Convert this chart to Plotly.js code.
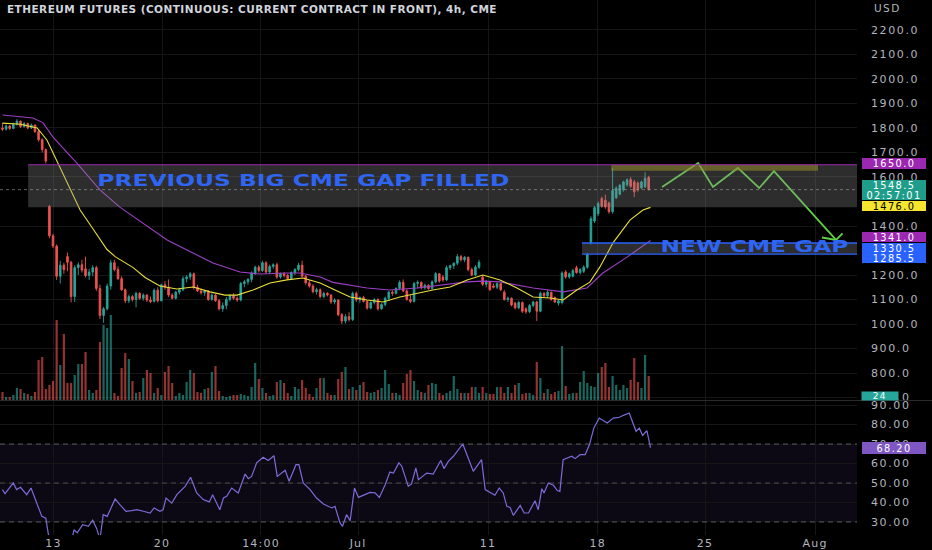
<!DOCTYPE html>
<html><head><meta charset="utf-8">
<script src="https://cdn.plot.ly/plotly-3.0.1.min.js"></script>
<style>
html,body{margin:0;padding:0;background:#000;}
#chart{width:932px;height:550px;}
</style></head><body><div id="chart"></div>
<script>
// ---- 4h candles (bar index 0..179) ----
const openP = [1800,1795,1808,1798,1815,1828,1806,1818,1800,1812,
1785,1752,1712,1480,1360,1318,1195,1240,1275,1252,
1112,1230,1242,1225,1198,1212,1230,1145,1035,1062,
1155,1250,1222,1185,1140,1095,1112,1100,1125,1105,
1118,1098,1092,1138,1095,1160,1150,1118,1105,1130,
1140,1185,1192,1205,1150,1135,1128,1135,1100,1118,
1095,1062,1075,1100,1115,1105,1098,1165,1172,1182,
1208,1232,1218,1250,1212,1235,1242,1192,1205,1198,
1185,1210,1222,1240,1195,1168,1155,1132,1140,1112,
1125,1118,1090,1098,1038,1012,1030,1018,1125,1098,
1108,1092,1065,1088,1100,1062,1080,1105,1130,1125,
1145,1170,1135,1100,1092,1165,1170,1148,1158,1145,
1172,1205,1192,1180,1230,1238,1248,1275,1262,1272,
1222,1200,1232,1192,1162,1172,1155,1150,1165,1130,
1100,1105,1085,1066,1088,1062,1050,1075,1090,1052,
1125,1115,1130,1108,1085,1088,1212,1192,1195,1230,
1210,1215,1232,1330.5,1420,1450,1512,1505,1494,1458,
1515,1530,1548,1568,1590,1580,1575,1555,1560,1598];
const highP = [1820,1815,1812,1822,1836,1830,1824,1822,1818,1815,
1792,1758,1716,1486,1368,1325,1258,1250,1292,1258,
1240,1252,1262,1275,1225,1240,1238,1160,1070,1165,
1262,1262,1235,1195,1145,1120,1118,1132,1130,1125,
1122,1112,1145,1150,1165,1175,1182,1125,1135,1148,
1195,1200,1212,1210,1160,1145,1140,1138,1125,1122,
1102,1088,1110,1122,1125,1112,1172,1180,1188,1215,
1238,1240,1258,1256,1242,1248,1250,1210,1212,1205,
1215,1228,1250,1258,1200,1180,1162,1148,1145,1132,
1130,1122,1105,1100,1045,1040,1048,1132,1132,1112,
1115,1098,1092,1105,1105,1085,1112,1135,1138,1150,
1178,1182,1142,1118,1172,1178,1174,1165,1162,1178,
1212,1208,1200,1238,1242,1252,1285,1282,1278,1275,
1230,1240,1262,1198,1180,1176,1165,1170,1168,1138,
1112,1108,1090,1095,1092,1068,1082,1095,1095,1132,
1130,1138,1132,1112,1100,1215,1220,1210,1225,1238,
1228,1240,1290,1440,1482,1500,1520,1528,1500,1637,
1562,1572,1585,1595,1600,1588,1582,1585,1620,1605];
const lowP = [1788,1790,1792,1795,1810,1800,1802,1795,1796,1780,
1745,1700,1655,1350,1310,1180,1165,1205,1215,1088,
1090,1200,1210,1190,1180,1195,1135,1020,1005,1055,
1140,1215,1180,1135,1085,1085,1092,1068,1098,1095,
1090,1085,1088,1088,1092,1140,1110,1100,1100,1120,
1135,1170,1180,1140,1130,1120,1115,1095,1095,1090,
1055,1050,1060,1092,1098,1090,1092,1150,1160,1170,
1200,1210,1212,1205,1205,1225,1185,1185,1190,1180,
1180,1200,1215,1190,1160,1148,1125,1120,1105,1105,
1112,1082,1080,1032,1000,1002,1010,1012,1090,1085,
1088,1058,1060,1080,1055,1058,1072,1095,1115,1120,
1138,1130,1095,1085,1088,1145,1142,1140,1140,1140,
1165,1168,1172,1175,1220,1225,1240,1255,1252,1215,
1195,1195,1225,1155,1150,1135,1145,1142,1135,1095,
1090,1072,1060,1060,1045,1042,1045,1068,1012,1048,
1108,1105,1095,1085,1075,1080,1185,1185,1190,1205,
1202,1208,1225,1325,1412,1440,1475,1470,1450,1450,
1510,1525,1540,1560,1555,1518,1540,1550,1555,1545];
const closeP = [1795,1808,1798,1815,1828,1806,1818,1800,1812,1785,
1752,1712,1665,1360,1318,1195,1240,1222,1252,1112,
1230,1242,1220,1198,1212,1230,1145,1035,1062,1155,
1250,1222,1185,1140,1095,1112,1100,1125,1105,1118,
1098,1092,1138,1095,1160,1150,1118,1105,1130,1140,
1185,1192,1205,1150,1135,1128,1135,1100,1118,1095,
1062,1075,1100,1115,1105,1098,1165,1172,1182,1208,
1232,1218,1250,1212,1235,1242,1192,1205,1198,1185,
1210,1222,1240,1195,1168,1155,1132,1140,1112,1125,
1118,1090,1098,1038,1012,1030,1018,1125,1098,1108,
1092,1065,1088,1100,1062,1080,1105,1130,1125,1145,
1170,1135,1100,1092,1165,1170,1148,1158,1145,1172,
1205,1175,1180,1230,1238,1248,1275,1262,1272,1222,
1200,1232,1252,1162,1172,1140,1150,1165,1140,1100,
1105,1078,1066,1088,1052,1050,1075,1090,1052,1125,
1115,1130,1100,1090,1095,1208,1192,1205,1218,1210,
1222,1232,1285.5,1430,1475,1492,1480,1478,1458,1545,
1555,1566,1580,1588,1562,1540,1548,1580,1595,1548.5];
const volume = [8,3,3,5,12,11,7,6,4,8,
40,43,11,15,19,80,35,66,17,17,
25,36,36,48,10,7,10,58,75,72,
85,7,4,32,47,41,19,7,8,22,
30,27,7,12,5,28,34,17,4,7,
5,18,30,27,8,7,11,12,28,34,
9,4,3,4,5,5,6,5,4,13,
37,21,12,7,4,5,18,20,17,7,
4,13,11,20,12,6,3,12,22,22,
7,5,5,21,28,33,11,13,10,15,
18,8,7,8,10,12,30,16,7,7,
5,17,26,30,19,10,8,7,15,17,
16,7,5,7,9,24,11,7,7,7,
13,13,7,13,7,6,6,13,13,7,
13,7,15,17,6,7,7,5,38,22,
7,11,6,8,9,54,14,6,7,7,
18,29,17,14,13,27,33,37,13,24,
15,10,15,12,20,42,18,12,45,24];

// ---- moving averages (read points: bar index, price) ----
const yellowX = [0,5,9.6,12.3,15.9,19.2,21.5,25.0,28.9,31.2,36.2,39.5,43.6,48.3,52.8,57.5,61.6,65.0,69.4,74.1,78.8,83.2,88.0,92.1,96.3,101.0,105.4,110.1,114.8,119.2,124.0,128.7,133.1,137.8,142.5,147.0,151.7,155.3,159.1,162.7,165.5,169.1,173.8,177.4,179.5];
const yellowY = [1820,1815,1800,1751,1640,1535,1465,1390,1305,1275,1230,1190,1155,1143,1151,1131,1118,1118,1139,1167,1180,1188,1167,1139,1110,1098,1090,1110,1126,1139,1151,1180,1200,1180,1147,1110,1106,1098,1139,1171,1233,1331,1424,1465,1476];
const purpleX = [0,8.4,11.2,14.0,20.6,27.0,32.5,38.9,45.6,51.1,58.3,65.8,71.3,78.8,82.4,88.0,91.5,101.0,107.3,114.8,124.0,128.7,133.1,137.8,147.0,155.3,161.9,166.3,173.0,179.5];
const purpleY = [1853,1841,1822,1763,1657,1547,1477,1412,1343,1302,1249,1212,1204,1208,1208,1192,1170,1147,1139,1147,1163,1172,1175,1172,1147,1131,1147,1208,1273,1341];

// ---- RSI (bar index, value) ----
const rsiX = [0,0.7,3.0,3.9,5.0,6.7,7.9,9.0,10.9,12.0,
12.5,13.2,14.5,15.9,17.3,18.7,19.8,20.7,22.2,23.8,
25.0,26.1,27.0,27.9,29.0,31.2,32.5,34.2,35.8,37.2,
39.0,40.9,42.0,43.6,44.5,45.3,46.9,48.3,50.6,52.1,
53.8,55.6,57.3,58.2,60.2,61.2,62.1,63.5,65.3,67.2,
68.1,69.0,70.4,72.2,73.6,75.2,76.1,78.3,79.4,81.3,
82.1,83.3,85.2,87.0,88.9,91.2,92.1,93.5,94.2,95.3,
96.3,97.5,98.6,100.4,101.8,103.2,104.4,106.0,107.3,108.3,
109.8,110.6,112.4,113.3,114.5,115.2,117.5,119.3,121.4,122.3,
123.5,124.9,127.5,130.4,132.7,133.7,135.5,136.4,137.6,138.7,
139.7,140.6,141.5,143.4,144.5,145.7,147.5,148.4,149.4,150.0,
151.2,152.6,153.7,154.4,155.3,156.7,157.7,158.6,160.0,161.4,
162.6,163.8,165.3,166.4,167.5,169.2,170.9,172.0,173.6,175.5,
176.4,177.3,178.5,179.5];
const rsiY = [46.6,44.5,50,46.6,47.8,44,47.4,42.3,32.9,32,
24.4,18,12,14,10,16,26,24.4,28.6,27.8,
30.9,26.6,21,33.8,32.9,41.8,38.9,35.5,35.8,36.3,
35.5,34.6,37.2,35.5,36.3,42.3,39.7,44,48.3,52.9,
44.9,41.5,40.3,44,36.3,42.3,43.2,47.4,44.9,54.6,
52.2,53.4,60.3,63.2,61.5,64,53.4,56.5,50.9,59.4,
59.4,50,46.6,42.3,39.2,37.2,38,29.5,27.8,33.8,
30.7,47.4,42.6,44,45.2,44.9,42.6,49.1,55.6,55.1,
60.3,58.6,48.3,49.5,57.7,51.7,55.1,54.6,61.5,57.4,
61.1,63.7,70,56,62,46.6,44.9,43.7,47.4,44.9,
38,37.5,33.4,38.5,34.6,34.6,40.9,36.3,47.1,44.9,
50,48.8,46.1,45.7,62,62.8,63.7,62.5,64.5,64.5,
69.7,78.2,83.3,82,80.8,83.3,83.7,84.7,85.9,76.5,
78.2,74.4,76.8,68.2];

// ---- projection drawing ----
const zigX = [182.7,192.7,196.8,203.7,209.6,213.7,230.9];
const zigY = [1559,1657,1559,1637,1555,1624,1343];
const arrowX = [227.0,230.9,232.7];
const arrowY = [1353,1343,1370];

// ---- axis ticks ----
const xTickPos = [14.1,44.2,71.6,98.5,134.5,164.9,194.6,225.1];
const xTickText = ['13','20','14:00','Jul','11','18','25','Aug'];
const priceTicks = [700,800,900,1000,1100,1200,1400,1600,1700,1800,1900,2000,2100,2200];
const rsiTicks = [30,40,50,60,70,80,90];

// ---- levels ----
const oldGapTop = 1650, oldGapBottom = 1476;
const newGapTop = 1330.5, newGapBottom = 1285.5;
const targetTop = 1650, targetBottom = 1625;
const lastPrice = 1548.5, lastYellow = 1476.0, lastPurple = 1341.0, lastRsi = 68.20, lastVol = 24;
const oldGapStart = 7.1, newGapStart = 160.5, targetStart = 168.6, targetEnd = 225.9;

const barIndex = closeP.map((_, i) => i);
const UP = '#26a69a', DOWN = '#ef5350';
const volColors = closeP.map((c, i) => c >= openP[i] ? 'rgba(38,166,154,0.62)' : 'rgba(239,83,80,0.62)');

const FONT = 'DejaVu Sans';
const PW = 857, PH = 535;

const data = [
  {type:'bar', x:barIndex, y:volume, yaxis:'y3', marker:{color:volColors, line:{width:0}}, width:0.6, hoverinfo:'skip'},
  {type:'candlestick', x:barIndex, open:openP, high:highP, low:lowP, close:closeP,
   increasing:{line:{color:UP, width:0.9}, fillcolor:UP},
   decreasing:{line:{color:DOWN, width:0.9}, fillcolor:DOWN},
   whiskerwidth:0, hoverinfo:'skip'},
  {type:'scatter', mode:'lines', x:purpleX, y:purpleY, line:{color:'#9c3fc4', width:1.1}, hoverinfo:'skip'},
  {type:'scatter', mode:'lines', x:yellowX, y:yellowY, line:{color:'#e8df3c', width:1.1}, hoverinfo:'skip'},
  {type:'scatter', mode:'lines', x:zigX, y:zigY, line:{color:'#5fcf45', width:1.8}, hoverinfo:'skip'},
  {type:'scatter', mode:'lines', x:arrowX, y:arrowY, line:{color:'#5fcf45', width:1.8}, hoverinfo:'skip'},
  {type:'scatter', mode:'lines', x:rsiX, y:rsiY, yaxis:'y2', line:{color:'#7e6ad8', width:1.2}, hoverinfo:'skip'}
];

const tickFont = {family:FONT, size:11, color:'#b2b5be'};
const grid = '#161616';

const shapes = [
  {type:'rect', xref:'paper', yref:'y2', x0:0, x1:1, y0:30, y1:70, fillcolor:'rgba(126,87,194,0.10)', line:{width:0}, layer:'below'},
  {type:'line', xref:'paper', yref:'y2', x0:0, x1:1, y0:70, y1:70, line:{color:'rgba(120,123,134,0.7)', width:1, dash:'5px,4px'}},
  {type:'line', xref:'paper', yref:'y2', x0:0, x1:1, y0:50, y1:50, line:{color:'rgba(120,123,134,0.55)', width:1, dash:'5px,4px'}},
  {type:'line', xref:'paper', yref:'y2', x0:0, x1:1, y0:30, y1:30, line:{color:'rgba(120,123,134,0.7)', width:1, dash:'5px,4px'}},
  {type:'line', xref:'paper', yref:'paper', x0:0, x1:932/PW, y0:134.5/PH, y1:134.5/PH, line:{color:'#2a2a2a', width:1}},
  {type:'rect', xref:'x', yref:'y', x0:oldGapStart, x1:236.7, y0:oldGapBottom, y1:oldGapTop, fillcolor:'rgba(140,140,140,0.32)', line:{width:0}, layer:'above'},
  {type:'rect', xref:'x', yref:'y', x0:targetStart, x1:targetEnd, y0:targetBottom, y1:targetTop, fillcolor:'rgba(150,140,40,0.55)', line:{width:0}, layer:'above'},
  {type:'line', xref:'x', yref:'y', x0:oldGapStart, x1:236.7, y0:oldGapTop, y1:oldGapTop, line:{color:'#9c27b0', width:1}},
  {type:'rect', xref:'x', yref:'y', x0:newGapStart, x1:236.7, y0:newGapBottom, y1:newGapTop, fillcolor:'rgba(140,140,140,0.32)', line:{width:0}, layer:'above'},
  {type:'line', xref:'x', yref:'y', x0:newGapStart, x1:236.7, y0:newGapTop, y1:newGapTop, line:{color:'#2962ff', width:1.3}},
  {type:'line', xref:'x', yref:'y', x0:newGapStart, x1:236.7, y0:newGapBottom, y1:newGapBottom, line:{color:'#2962ff', width:1.3}},
  {type:'line', xref:'paper', yref:'y', x0:0, x1:1, y0:lastPrice, y1:lastPrice, line:{color:'rgba(160,160,160,0.6)', width:1, dash:'dot'}}
];

const boxX = 894/PW;
function priceBox(txt, y, yref, bg, fg, yshift, h){
  return {xref:'paper', yref:yref, x:boxX, y:y, xanchor:'center', yanchor:'middle', yshift:yshift||0,
    text:txt, showarrow:false, bgcolor:bg, width:64, height:h||11, borderpad:0, borderwidth:0,
    font:{family:FONT, size:9.8, color:fg}, align:'center'};
}

const annotations = [
  {xref:'paper', yref:'paper', x:5/PW, y:1-9/PH, xanchor:'left', yanchor:'middle', showarrow:false, width:600, align:'left',
   text:'ETHEREUM FUTURES (CONTINUOUS: CURRENT CONTRACT IN FRONT), 4h, CME',
   font:{family:FONT, size:10.5, color:'#d1d4dc', weight:'bold'}},
  {xref:'paper', yref:'paper', x:872/PW, y:1-8/PH, xanchor:'left', yanchor:'middle', showarrow:false, width:50, align:'left',
   text:'USD', font:{family:FONT, size:10.5, color:'#b2b5be'}},
  {xref:'x', yref:'y', x:83.5, y:1583.7, xanchor:'center', yanchor:'middle', showarrow:false,
   text:'PREVIOUS BIG CME GAP FILLED', font:{family:FONT, size:15, color:'#2f65f3', weight:'bold'}},
  {xref:'x', yref:'y', x:208.2, y:1314, xanchor:'center', yanchor:'middle', showarrow:false,
   text:'NEW CME GAP', font:{family:FONT, size:15, color:'#2f65f3', weight:'bold'}},
  priceBox(oldGapTop.toFixed(1), oldGapTop, 'y', '#9c27b0', '#ffffff', 1.5),
  priceBox(lastPrice.toFixed(1), lastPrice, 'y', '#1f9d8b', '#ffffff', 4.5, 10),
  priceBox('02:57:01', lastPrice, 'y', '#1f9d8b', '#ffffff', -5.5, 10),
  priceBox(lastYellow.toFixed(1), lastYellow, 'y', '#f5e52f', '#000000', 1.4, 10),
  priceBox(lastPurple.toFixed(1), lastPurple, 'y', '#9c27b0', '#ffffff', 3, 10),
  priceBox(newGapTop.toFixed(1), newGapTop, 'y', '#2962ff', '#ffffff', -4.5, 10),
  priceBox(newGapBottom.toFixed(1), newGapBottom, 'y', '#2962ff', '#ffffff', -3.5, 10),
  priceBox(lastRsi.toFixed(2), lastRsi, 'y2', '#7e57c2', '#ffffff', 0, 12),
  {xref:'paper', yref:'paper', x:880/PW, y:1-396/PH, xanchor:'center', yanchor:'middle', showarrow:false,
   text:String(lastVol), bgcolor:'#26a69a', width:36, height:8, borderpad:0,
   font:{family:FONT, size:9, color:'#ffffff'}}
];

const layout = {
  width:932, height:550,
  margin:{l:0, r:932-PW, t:0, b:15},
  paper_bgcolor:'#000', plot_bgcolor:'#000',
  showlegend:false, boxgap:0.35,
  xaxis:{range:[-0.69, 236.7], tickvals:xTickPos, ticktext:xTickText, showgrid:true, gridcolor:grid,
    zeroline:false, showline:false, ticks:'', tickfont:tickFont, anchor:'y2', rangeslider:{visible:false}, fixedrange:true},
  yaxis:{domain:[135/PH, 1], range:[689.8, 2322.4], side:'right', tickvals:priceTicks, tickformat:'.1f',
    showgrid:true, gridcolor:grid, zeroline:false, showline:false, ticks:'', tickfont:tickFont,
    ticklabelstandoff:13, anchor:'x', fixedrange:true},
  yaxis2:{domain:[0, 134/PH], range:[23.33, 92.05], side:'right', tickvals:rsiTicks, tickformat:'.2f',
    showgrid:true, gridcolor:grid, zeroline:false, showline:false, ticks:'', tickfont:tickFont,
    ticklabelstandoff:13, anchor:'x', fixedrange:true},
  yaxis3:{overlaying:'y', range:[0, 400], visible:false, anchor:'x', fixedrange:true},
  shapes:shapes, annotations:annotations
};

const stretch = {'PREVIOUS BIG CME GAP FILLED':412, 'NEW CME GAP':188};
const gd = document.getElementById('chart');
function fixText(){
  gd.querySelectorAll('g.xtick text').forEach(t => t.style.letterSpacing = '1.2px');
  gd.querySelectorAll('g.ytick text, g.y2tick text').forEach(t => t.style.letterSpacing = '1.6px');
  gd.querySelectorAll('text.annotation-text').forEach(t => {
    const s = t.textContent;
    if (stretch[s]) { t.setAttribute('textLength', stretch[s]); t.setAttribute('lengthAdjust', 'spacingAndGlyphs'); }
    else if (s.indexOf('ETHEREUM') === 0) t.style.letterSpacing = '0.45px';
    else t.style.letterSpacing = '1.4px';
  });
}
Plotly.newPlot(gd, data, layout, {staticPlot:true, displayModeBar:false}).then(() => {
  fixText();
  gd.on && gd.on('plotly_afterplot', fixText);
});
</script></body></html>
